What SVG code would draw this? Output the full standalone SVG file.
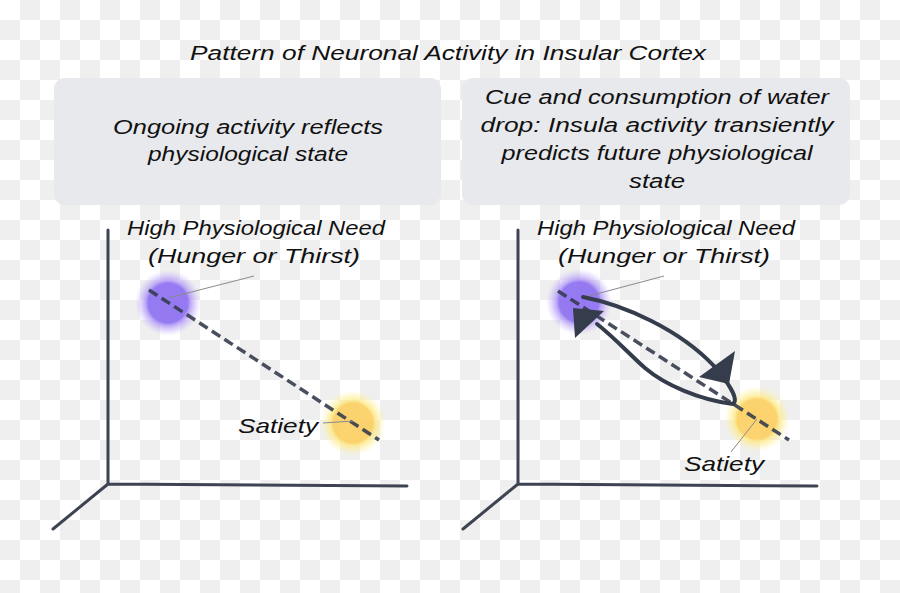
<svg xmlns="http://www.w3.org/2000/svg" width="900" height="593" viewBox="0 0 900 593">
<defs>
<pattern id="checker" width="40" height="40" patternUnits="userSpaceOnUse">
<rect width="40" height="40" fill="#ffffff"/>
<rect x="20" y="0" width="20" height="20" fill="#efefef"/>
<rect x="0" y="20" width="20" height="20" fill="#efefef"/>
</pattern>
<radialGradient id="purpleGlow">
<stop offset="0" stop-color="#8a6cf0"/>
<stop offset="0.6" stop-color="#8a6cf0"/>
<stop offset="0.68" stop-color="#a98ef6" stop-opacity="0.85"/>
<stop offset="1" stop-color="#c9b8fb" stop-opacity="0"/>
</radialGradient>
<radialGradient id="yellowGlow">
<stop offset="0" stop-color="#fccf5f"/>
<stop offset="0.6" stop-color="#fccf5f"/>
<stop offset="0.68" stop-color="#fde77e" stop-opacity="0.85"/>
<stop offset="1" stop-color="#fff6a8" stop-opacity="0"/>
</radialGradient>
<style>
text { font-family: "Liberation Sans", "DejaVu Sans", sans-serif; font-style: italic; fill: #111111; }
.title { font-size: 20px; }
.box { fill: #e8e9ed; }
.boxtext { font-size: 20px; text-anchor: middle; }
.label { font-size: 21px; }
.axis { stroke: #3d4352; stroke-width: 3; fill: none; stroke-linecap: round; stroke-linejoin: round; }
.dash { stroke: #353c4e; stroke-width: 3.5; stroke-dasharray: 10 5; fill: none; stroke-opacity: 0.9; }
.leader { stroke: #8a8a92; stroke-width: 1; fill: none; }
.loop { stroke: #353c4b; stroke-width: 4; fill: none; stroke-linecap: round; stroke-linejoin: round; }
.head { fill: #353c4b; }
</style>
</defs>
<rect width="900" height="593" fill="url(#checker)"/>

<text class="title" x="190" y="60" textLength="516" lengthAdjust="spacingAndGlyphs">Pattern of Neuronal Activity in Insular Cortex</text>

<g id="box-left">
<rect class="box" x="54" y="78" width="387" height="127" rx="11"/>
<text class="boxtext" x="248" y="134" textLength="270" lengthAdjust="spacingAndGlyphs">Ongoing activity reflects</text>
<text class="boxtext" x="248" y="161" textLength="200" lengthAdjust="spacingAndGlyphs">physiological state</text>
</g>

<g id="box-right">
<rect class="box" x="462" y="78" width="388" height="127" rx="11"/>
<text class="boxtext" x="657" y="104" textLength="344" lengthAdjust="spacingAndGlyphs">Cue and consumption of water</text>
<text class="boxtext" x="657" y="132" textLength="353" lengthAdjust="spacingAndGlyphs">drop: Insula activity transiently</text>
<text class="boxtext" x="657" y="160" textLength="311" lengthAdjust="spacingAndGlyphs">predicts future physiological</text>
<text class="boxtext" x="657" y="188" textLength="56" lengthAdjust="spacingAndGlyphs">state</text>
</g>

<g id="axes-left">
<path class="axis" d="M108,230 L108,484 L407,486 M108,484 L53,529"/>
</g>
<g id="axes-right">
<path class="axis" d="M518,230 L518,484 L817,486 M518,484 L463,529"/>
</g>

<g id="need-left">
<circle cx="168" cy="303" r="33" fill="url(#purpleGlow)" fill-opacity="0.9"/>
<text class="label" x="127" y="235" textLength="258" lengthAdjust="spacingAndGlyphs">High Physiological Need</text>
<text class="label" x="148" y="263" textLength="212" lengthAdjust="spacingAndGlyphs">(Hunger or Thirst)</text>
</g>

<g id="satiety-left">
<circle cx="353" cy="423" r="33" fill="url(#yellowGlow)" fill-opacity="0.9"/>
<text class="label" x="238" y="433" textLength="80" lengthAdjust="spacingAndGlyphs">Satiety</text>
</g>

<g id="need-right">
<circle cx="579" cy="302" r="33" fill="url(#purpleGlow)" fill-opacity="0.9"/>
<text class="label" x="537" y="235" textLength="258" lengthAdjust="spacingAndGlyphs">High Physiological Need</text>
<text class="label" x="558" y="263" textLength="212" lengthAdjust="spacingAndGlyphs">(Hunger or Thirst)</text>
</g>

<g id="satiety-right">
<circle cx="757" cy="419" r="33" fill="url(#yellowGlow)" fill-opacity="0.9"/>
<text class="label" x="684" y="471" textLength="80" lengthAdjust="spacingAndGlyphs">Satiety</text>
</g>

<g id="connectors">
<line class="dash" x1="149" y1="290" x2="379" y2="440"/>
<line class="dash" x1="558" y1="291" x2="789" y2="440"/>
<line class="leader" x1="168" y1="298" x2="254" y2="276"/>
<line class="leader" x1="323" y1="423" x2="353" y2="421"/>
<line class="leader" x1="585" y1="297" x2="664" y2="276"/>
<line class="leader" x1="757" y1="419" x2="731" y2="452"/>
<path class="loop" d="M583,297 C625,305 680,330 714,366"/>
<path class="loop" d="M714,366 C726,380 740,399 733,404 C700,400 665,385 645,368 C630,355 615,338 597,324"/>
<polygon class="head" points="735,351 729,384 699,377"/>
<polygon class="head" points="573,308 604,311 575,338"/>
</g>
</svg>
